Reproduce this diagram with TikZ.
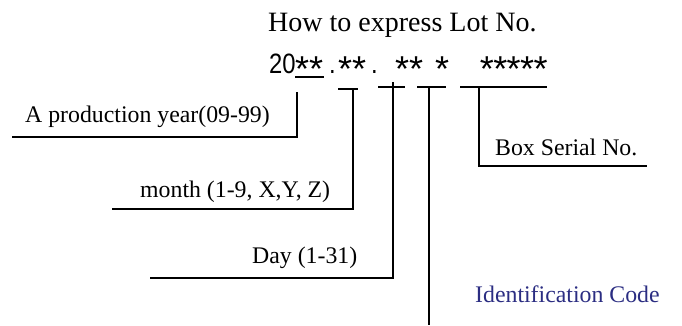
\documentclass[tikz,border=0pt]{standalone}
\usepackage{fontspec}
\setmainfont{Liberation Serif}
\newfontfamily\codefont[FakeStretch=0.85]{Liberation Sans}
\newfontfamily\starfont{Liberation Sans}
\definecolor{idblue}{RGB}{43,45,130}
\newcommand{\st}[1][14pt]{\makebox[#1]{\raisebox{-8.5pt}{\starfont\fontsize{36}{36}\selectfont *}}}

\begin{document}
\begin{tikzpicture}[x=1pt,y=-1pt,
    lead/.style={line width=2.3pt},
    lbl/.style={anchor=base west,inner sep=0pt,font=\fontsize{23.8}{24}\selectfont},
    code/.style={anchor=base west,inner sep=0pt,font=\codefont\fontsize{28}{28}\selectfont}]
    \path[use as bounding box] (0,0) rectangle (682,325);

    \node[anchor=base west,inner sep=0pt,font=\fontsize{28}{28}\selectfont] (title) at (268,31) {How to express Lot No.};

    % the lot number
    \node[code] (cent) at (269,73) {20};
    \node[code] (yy) at (295,73) {\st\st};
    \node[code] (dot1) at (329,73) {.};
    \node[code] (mm) at (338,73) {\st\st};
    \node[code] (dot2) at (371,73) {.};
    \node[code] (dd) at (395,73) {\st\st};
    \node[code] (id) at (435,73) {\st};
    \node[code] (sn) at (480,73) {\st[13.4pt]\st[13.4pt]\st[13.4pt]\st[13.4pt]\st[13.4pt]};

    % labels
    \node[lbl] (year) at (25,122) {A production year(09-99)};
    \node[lbl] (month) at (140,197) {month (1-9, X,Y, Z)};
    \node[lbl] (day) at (252,263) {Day (1-31)};
    \node[lbl] (serial) at (495,155) {Box Serial No.};
    \node[lbl,text=idblue] (ident) at (475,302) {Identification Code};

    % leader ends
    \coordinate (yrT) at (297,92);
    \coordinate (yrE) at (12,137);
    \coordinate (mmT) at (353,89);
    \coordinate (mmE) at (112,209);
    \coordinate (ddT) at (393,82);
    \coordinate (ddE) at (150,278);
    \coordinate (idT) at (429,87);
    \coordinate (idE) at (429,325);
    \coordinate (snT) at (479,87);
    \coordinate (snE) at (647,166);

    % ticks under the groups
    \draw[lead] (295,77) -- (324,77);
    \draw[lead] (338,89) -- (358,89);
    \draw[lead] (378,87) -- (405,87);
    \draw[lead] (417,87) -- (446,87);
    \draw[lead] (460,87) -- (547,87);

    % leaders
    \draw[lead] (yrT) |- (yrE);
    \draw[lead] (mmT) |- (mmE);
    \draw[lead] (ddT) |- (ddE);
    \draw[lead] (idT) -- (idE);
    \draw[lead] (snT) |- (snE);
\end{tikzpicture}
\end{document}
